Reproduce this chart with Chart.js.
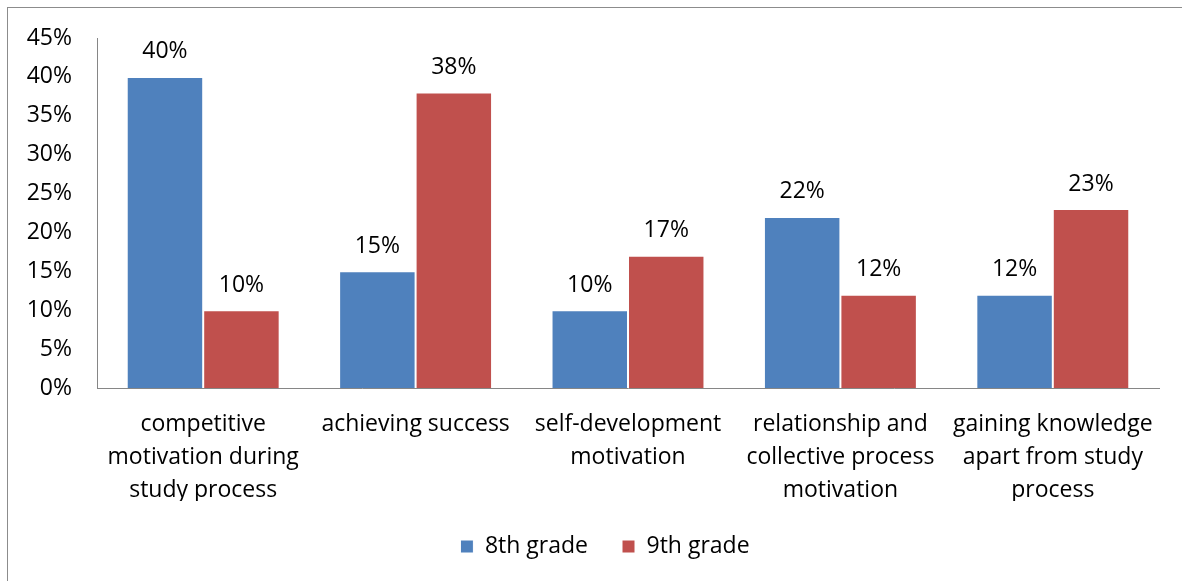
<!DOCTYPE html>
<html lang="en">

<head>
  <meta charset="UTF-8">
  <title>Motivation by grade</title>
  <style>
    body { margin: 0; background: #fff; overflow: hidden; }
    .frame {
      position: absolute; left: 7px; top: 7px; width: 1175px; height: 574px;
      border-left: 1px solid #8c8c8c; border-top: 1px solid #8c8c8c;
    }
    .cardGrafico { position: absolute; left: 1px; top: 1px; width: 1174px; height: 573px; }
  </style>
</head>

<body>

  <div class="frame">
    <div class="cardGrafico">
      <canvas id="grafico"></canvas>
    </div>
  </div>

  <script src="https://cdn.jsdelivr.net/npm/chart.js"></script>

  <script>
    const categorias = [
      ['competitive', 'motivation during', 'study process'],
      'achieving success',
      ['self-development', 'motivation'],
      ['relationship and', 'collective process', 'motivation'],
      ['gaining knowledge', 'apart from study', 'process']
    ];
    const grade8 = [40, 15, 10, 22, 12];
    const grade9 = [10, 38, 17, 12, 23];
    const ticksY = [0, 5, 10, 15, 20, 25, 30, 35, 40, 45];

    const fonte = { family: '"Open Sans", sans-serif', size: 23 };

    // rótulos de valor acima das barras
    const rotulos = {
      id: 'rotulos',
      afterDatasetsDraw(chart) {
        const ctx = chart.ctx;
        ctx.save();
        ctx.font = '23px "Open Sans", sans-serif';
        ctx.fillStyle = '#000';
        ctx.textAlign = 'center';
        ctx.textBaseline = 'middle';
        chart.data.datasets.forEach((ds, i) => {
          chart.getDatasetMeta(i).data.forEach((bar, j) => {
            ctx.fillText(ds.data[j] + '%', bar.x, bar.y - 25);
          });
        });
        ctx.restore();
      }
    };

    // legenda um pouco deslocada para a direita, como no original
    const legendaDesloc = {
      id: 'legendaDesloc',
      afterLayout(chart) {
        chart.legend.left += 21;
        chart.legend.right += 21;
      }
    };

    const ctx = document.getElementById('grafico');

    const grafico = new Chart(ctx, {
      type: 'bar',
      data: {
        labels: categorias,
        datasets: [
          {
            label: '8th grade',
            data: grade8,
            backgroundColor: '#4F81BD',
            borderColor: '#ffffff',
            borderWidth: 1
          },
          {
            label: '9th grade',
            data: grade9,
            backgroundColor: '#C0504D',
            borderColor: '#ffffff',
            borderWidth: 1
          }
        ]
      },
      options: {
        responsive: true,
        maintainAspectRatio: false,
        animation: false,
        layout: { padding: { left: 0, right: 24, top: 29, bottom: 14 } },
        datasets: { bar: { categoryPercentage: 0.72, barPercentage: 1 } },
        scales: {
          x: {
            afterFit(scale) { scale.height = 113; },
            grid: { display: false, drawTicks: false },
            border: { color: '#868686', width: 1 },
            ticks: {
              color: '#000',
              font: { ...fonte, lineHeight: 1.435 },
              padding: 19.5,
              maxRotation: 0,
              autoSkip: false
            }
          },
          y: {
            min: 0,
            max: 45,
            afterFit(scale) {
              scale.width = 88;
              scale.paddingTop = 0;
              scale.paddingBottom = 0;
            },
            afterBuildTicks(scale) { scale.ticks = ticksY.map(v => ({ value: v })); },
            grid: { display: false, drawTicks: false },
            border: { color: '#868686', width: 1 },
            ticks: {
              color: '#000',
              font: fonte,
              padding: 25,
              callback: v => v + '%'
            }
          }
        },
        plugins: {
          legend: {
            position: 'bottom',
            labels: {
              color: '#000',
              font: fonte,
              boxWidth: 13,
              boxHeight: 13,
              padding: 34
            }
          },
          tooltip: { enabled: false }
        }
      },
      plugins: [rotulos, legendaDesloc]
    });
  </script>
</body>

</html>
